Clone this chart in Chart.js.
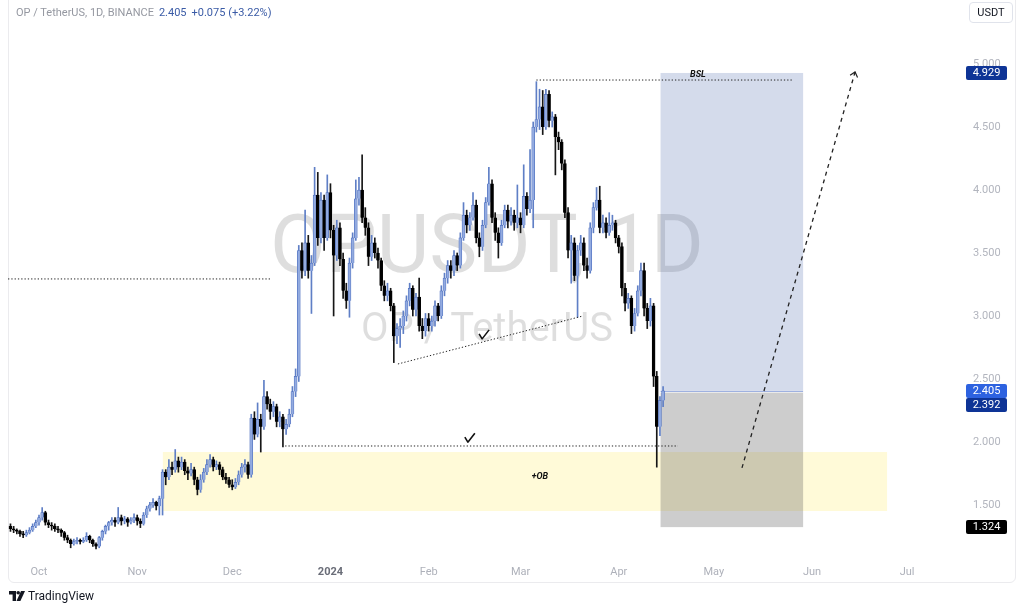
<!DOCTYPE html>
<html lang="en">
<head>
  <meta charset="UTF-8">
  <title>OP / TetherUS, 1D</title>
  <script src="https://cdn.jsdelivr.net/npm/chart.js"></script>
  <style>
    html, body {
      margin: 0;
      padding: 0;
      background: #fff;
    }
    body {
      width: 1024px;
      height: 610px;
      position: relative;
      overflow: hidden;
      font-family: Roboto, "Noto Sans", Arial, sans-serif;
    }
    #frame {
      position: absolute;
      left: 8px;
      top: -6px;
      width: 1008px;
      height: 589px;
      border: 1px solid #ebebee;
      border-radius: 6px;
      box-sizing: border-box;
    }
    #chart {
      position: absolute;
      left: 0;
      top: 0;
    }
    #legend {
      position: absolute;
      left: 16px;
      top: 6px;
      font-size: 11px;
      color: #9598a1;
      white-space: nowrap;
    }
    #legend .val {
      color: #3a5ba6;
      margin-left: 5px;
    }
    #unit {
      position: absolute;
      left: 969px;
      top: 2px;
      width: 44px;
      height: 21px;
      border: 1px solid #e0e3eb;
      border-radius: 4px;
      box-sizing: border-box;
      font-size: 11px;
      color: #131722;
      text-align: center;
      line-height: 19px;
    }
    #brand {
      position: absolute;
      left: 9px;
      top: 589px;
      font-size: 12px;
      color: #131722;
      display: flex;
      align-items: center;
      gap: 3px;
    }
  </style>
</head>
<body>
  <div id="frame"></div>
  <canvas id="chart" width="1024" height="610"></canvas>
  <div id="legend">OP / TetherUS, 1D, BINANCE<span class="val">2.405</span><span class="val">+0.075 (+3.22%)</span></div>
  <div id="unit">USDT</div>
  <div id="brand">
    <svg width="16" height="10" viewBox="0 0 16 10">
      <path d="M0 0h7v10h-3.4v-6.6h-3.6z" fill="#131722"/>
      <circle cx="9.2" cy="1.8" r="1.8" fill="#131722"/>
      <path d="M12 0h4l-4.6 10h-3.9z" fill="#131722"/>
    </svg>
    <span>TradingView</span>
  </div>

  <script>
    // days counted from 1 Oct 2023, one daily candle each
    const firstDay = -9;

    const opens = [
      1.33, 1.31, 1.30, 1.29, 1.27, 1.26, 1.28, 1.30, 1.33, 1.36,
      1.40, 1.44, 1.36, 1.34, 1.33, 1.31, 1.30, 1.28, 1.24, 1.22,
      1.19, 1.21, 1.22, 1.21, 1.22, 1.25, 1.22, 1.19, 1.17, 1.24,
      1.29, 1.33, 1.36, 1.38, 1.36, 1.40, 1.37, 1.39, 1.36, 1.38,
      1.40, 1.37, 1.35, 1.42, 1.47, 1.50, 1.52, 1.49, 1.55, 1.76,
      1.72, 1.80, 1.78, 1.85, 1.80, 1.84, 1.77, 1.75, 1.78, 1.70,
      1.62, 1.70, 1.76, 1.82, 1.86, 1.80, 1.82, 1.78, 1.72, 1.70,
      1.66, 1.64, 1.68, 1.74, 1.80, 1.82, 1.74, 2.19, 2.06, 2.18,
      2.12, 2.36, 2.30, 2.24, 2.28, 2.16, 2.20, 2.10, 2.14, 2.22,
      2.40, 2.52, 3.52, 3.36, 3.58, 3.36, 3.42, 3.96, 3.62, 3.92,
      3.62, 3.98, 3.68, 3.48, 3.70, 3.45, 3.20, 3.12, 3.42, 3.62,
      3.93, 4.00, 3.78, 3.70, 3.47, 3.58, 3.50, 3.44, 3.24, 3.16,
      3.20, 3.08, 2.84, 2.90, 2.92, 3.00, 3.12, 3.22, 3.05, 3.15,
      2.92, 2.88, 2.98, 2.92, 2.96, 3.08, 3.00, 3.20, 3.30, 3.40,
      3.36, 3.48, 3.40, 3.62, 3.80, 3.72, 3.78, 3.88, 3.62, 3.55,
      3.72, 3.90, 4.05, 3.78, 3.66, 3.58, 3.72, 3.84, 3.75, 3.80,
      3.74, 3.78, 3.72, 3.95, 3.85, 3.92, 4.50, 4.56, 4.66, 4.50,
      4.76, 4.55, 4.58, 4.42, 4.38, 4.21, 3.82, 3.52, 3.58, 3.32,
      3.52, 3.58, 3.40, 3.36, 3.70, 3.86, 3.92, 3.70, 3.74, 3.66,
      3.72, 3.74, 3.62, 3.55, 3.22, 3.10, 3.14, 2.92, 3.02, 3.20,
      3.36, 3.06, 2.96, 3.08, 2.52, 2.12, 2.33
    ];
    const highs = [
      1.35, 1.33, 1.31, 1.30, 1.29, 1.30, 1.32, 1.35, 1.38, 1.42,
      1.48, 1.45, 1.38, 1.36, 1.35, 1.33, 1.31, 1.29, 1.26, 1.23,
      1.23, 1.24, 1.23, 1.24, 1.28, 1.26, 1.23, 1.20, 1.25, 1.30,
      1.34, 1.37, 1.40, 1.40, 1.48, 1.42, 1.41, 1.40, 1.40, 1.43,
      1.42, 1.39, 1.44, 1.49, 1.52, 1.55, 1.53, 1.57, 1.78, 1.78,
      1.86, 1.84, 1.94, 1.88, 1.88, 1.86, 1.80, 1.83, 1.80, 1.72,
      1.74, 1.79, 1.86, 1.90, 1.88, 1.85, 1.84, 1.80, 1.75, 1.72,
      1.70, 1.71, 1.77, 1.83, 1.86, 1.84, 2.22, 2.24, 2.31, 2.22,
      2.49, 2.40, 2.34, 2.32, 2.30, 2.24, 2.22, 2.18, 2.26, 2.44,
      2.58, 3.56, 3.58, 3.84, 3.64, 3.48, 4.18, 4.14, 3.98, 3.96,
      4.12, 4.05, 3.72, 3.76, 3.74, 3.50, 3.26, 3.46, 3.66, 4.08,
      4.10, 4.28, 3.86, 3.74, 3.64, 3.62, 3.54, 3.46, 3.28, 3.26,
      3.22, 3.10, 2.94, 2.98, 3.04, 3.16, 3.26, 3.24, 3.18, 3.30,
      2.98, 3.02, 3.02, 3.00, 3.12, 3.10, 3.24, 3.34, 3.44, 3.44,
      3.52, 3.50, 3.66, 3.90, 3.84, 3.82, 3.98, 3.92, 3.66, 3.76,
      3.94, 4.18, 4.08, 3.82, 3.70, 3.76, 3.88, 3.88, 3.86, 3.84,
      4.04, 3.82, 4.20, 3.98, 4.32, 4.54, 4.86, 4.80, 4.79, 4.80,
      4.79, 4.62, 4.60, 4.46, 4.40, 4.24, 3.86, 3.64, 3.62, 3.56,
      3.64, 3.62, 3.46, 3.74, 3.90, 4.02, 4.03, 3.80, 3.78, 3.82,
      3.80, 3.76, 3.64, 3.58, 3.26, 3.18, 3.16, 3.06, 3.24, 3.42,
      3.42, 3.10, 3.14, 3.10, 2.56, 2.36, 2.44
    ];
    const lows = [
      1.29, 1.28, 1.27, 1.25, 1.24, 1.25, 1.27, 1.29, 1.32, 1.34,
      1.38, 1.34, 1.32, 1.30, 1.29, 1.28, 1.25, 1.22, 1.20, 1.16,
      1.18, 1.19, 1.19, 1.20, 1.21, 1.20, 1.17, 1.15, 1.16, 1.22,
      1.27, 1.30, 1.34, 1.33, 1.35, 1.34, 1.35, 1.33, 1.35, 1.36,
      1.34, 1.32, 1.34, 1.40, 1.45, 1.48, 1.46, 1.42, 1.42, 1.66,
      1.70, 1.74, 1.76, 1.76, 1.78, 1.74, 1.70, 1.73, 1.66, 1.58,
      1.60, 1.68, 1.74, 1.80, 1.77, 1.78, 1.74, 1.70, 1.67, 1.64,
      1.62, 1.63, 1.66, 1.72, 1.76, 1.71, 1.72, 2.02, 2.04, 1.92,
      2.10, 2.26, 2.18, 2.20, 2.12, 2.12, 1.96, 2.06, 2.12, 2.20,
      2.36, 2.48, 3.30, 3.32, 3.30, 3.02, 3.40, 3.56, 3.58, 3.52,
      3.60, 3.62, 3.00, 3.44, 3.40, 3.14, 3.06, 2.99, 3.38, 3.60,
      3.88, 3.74, 3.64, 3.40, 3.44, 3.46, 3.38, 3.20, 3.12, 3.12,
      3.04, 2.63, 2.78, 2.75, 2.86, 2.96, 3.08, 3.00, 3.00, 2.88,
      2.82, 2.84, 2.88, 2.88, 2.92, 2.96, 2.98, 3.16, 3.26, 3.30,
      3.32, 3.36, 3.38, 3.60, 3.66, 3.68, 3.76, 3.58, 3.47, 3.52,
      3.70, 3.88, 3.74, 3.60, 3.46, 3.56, 3.70, 3.70, 3.72, 3.68,
      3.70, 3.66, 3.70, 3.80, 3.82, 3.70, 4.46, 4.48, 4.44, 4.48,
      4.50, 4.50, 4.12, 4.32, 4.16, 3.78, 3.46, 3.26, 3.28, 2.99,
      3.48, 3.36, 3.30, 3.34, 3.66, 3.84, 3.66, 3.66, 3.62, 3.64,
      3.68, 3.58, 3.50, 3.16, 3.04, 3.06, 2.86, 2.88, 3.00, 3.16,
      3.00, 2.90, 2.92, 2.44, 1.80, 2.05, 2.28
    ];
    const closes = [
      1.31, 1.30, 1.29, 1.27, 1.26, 1.28, 1.30, 1.33, 1.36, 1.40,
      1.44, 1.36, 1.34, 1.33, 1.31, 1.30, 1.28, 1.24, 1.22, 1.19,
      1.21, 1.22, 1.21, 1.22, 1.25, 1.22, 1.19, 1.17, 1.24, 1.29,
      1.33, 1.36, 1.38, 1.36, 1.40, 1.37, 1.39, 1.36, 1.38, 1.40,
      1.37, 1.35, 1.42, 1.47, 1.50, 1.52, 1.49, 1.55, 1.76, 1.72,
      1.80, 1.78, 1.85, 1.80, 1.84, 1.77, 1.75, 1.78, 1.70, 1.62,
      1.70, 1.76, 1.82, 1.86, 1.80, 1.82, 1.78, 1.72, 1.70, 1.66,
      1.64, 1.68, 1.74, 1.80, 1.82, 1.74, 2.19, 2.06, 2.18, 2.12,
      2.36, 2.30, 2.24, 2.28, 2.16, 2.20, 2.10, 2.14, 2.22, 2.40,
      2.52, 3.52, 3.36, 3.58, 3.36, 3.42, 3.96, 3.62, 3.92, 3.62,
      3.98, 3.68, 3.48, 3.70, 3.45, 3.20, 3.12, 3.42, 3.62, 3.93,
      4.00, 3.78, 3.70, 3.47, 3.58, 3.50, 3.44, 3.24, 3.16, 3.20,
      3.08, 2.84, 2.90, 2.92, 3.00, 3.12, 3.22, 3.05, 3.15, 2.92,
      2.88, 2.98, 2.92, 2.96, 3.08, 3.00, 3.20, 3.30, 3.40, 3.36,
      3.48, 3.40, 3.62, 3.80, 3.72, 3.78, 3.88, 3.62, 3.55, 3.72,
      3.90, 4.05, 3.78, 3.66, 3.58, 3.72, 3.84, 3.75, 3.80, 3.74,
      3.78, 3.72, 3.95, 3.85, 3.92, 4.50, 4.56, 4.66, 4.50, 4.76,
      4.55, 4.58, 4.42, 4.38, 4.21, 3.82, 3.52, 3.58, 3.32, 3.52,
      3.58, 3.40, 3.36, 3.70, 3.86, 3.92, 3.70, 3.74, 3.66, 3.72,
      3.74, 3.62, 3.55, 3.22, 3.10, 3.14, 2.92, 3.02, 3.20, 3.36,
      3.06, 2.96, 3.08, 2.52, 2.12, 2.33, 2.405
    ];

    const monthTicks = [0, 31, 61, 92, 123, 152, 183, 213, 244, 274];
    const monthLabels = ["Oct", "Nov", "Dec", "2024", "Feb", "Mar", "Apr", "May", "Jun", "Jul"];
    const priceTicks = [1.5, 2.0, 2.5, 3.0, 3.5, 4.0, 4.5, 5.0];
    const priceMarks = [4.929, 2.405, 2.392, 1.324];

    // drawings, in days / price
    const obZone = { from: 39.1, to: 267.7, low: 1.452, high: 1.92 };
    const longTool = { from: 196.2, to: 241.2, target: 4.929, entry: 2.405, stopTop: 2.392, stop: 1.324 };
    const oldHigh = { to: 73.5, price: 3.294 };
    const bsl = { from: 157, to: 238, price: 4.873 };
    const equalLows = { from: 77.7, to: 201.7, price: 1.968 };
    const trendLine = [[113.3, 2.619], [171.7, 3.0]];
    const projection = [[221.9, 1.794], [257.6, 4.937]];
    const checks = [[136, 2.03], [140.5, 2.85]];

    const isUp = closes.map((c, i) => c >= opens[i]);
    const wicks = highs.map((h, i) => ({ x: firstDay + i, y: [lows[i], h] }));
    const bodies = closes.map((c, i) => ({ x: firstDay + i, y: [Math.min(opens[i], c), Math.max(opens[i], c)] }));

    const drawings = {
      id: "drawings",
      beforeDatasetsDraw(chart) {
        const { ctx, chartArea: a, scales: { x, y } } = chart;
        ctx.save();
        ctx.beginPath();
        ctx.rect(a.left, a.top, a.right - a.left, a.bottom - a.top);
        ctx.clip();

        // watermark
        const cx = (a.left + a.right) / 2 + 2;
        const cy = (a.top + a.bottom) / 2;
        ctx.fillStyle = "rgba(0, 0, 0, 0.13)";
        ctx.textAlign = "center";
        ctx.textBaseline = "middle";
        ctx.font = "81px Roboto";
        ctx.fillText("OPUSDT, 1D", cx, cy - 42);
        ctx.font = "40px Roboto";
        ctx.fillText("OP / TetherUS", cx, cy + 37);

        const box = (d0, d1, p0, p1, color) => {
          const x0 = x.getPixelForValue(d0), x1 = x.getPixelForValue(d1);
          const y0 = y.getPixelForValue(p1), y1 = y.getPixelForValue(p0);
          ctx.fillStyle = color;
          ctx.fillRect(x0, y0, x1 - x0, y1 - y0);
        };
        box(obZone.from, obZone.to, obZone.low, obZone.high, "rgba(255, 238, 110, 0.27)");
        box(longTool.from, longTool.to, longTool.entry, longTool.target, "rgba(70, 100, 170, 0.23)");
        box(longTool.from, longTool.to, longTool.stop, longTool.stopTop, "rgba(90, 90, 90, 0.30)");

        const ey = Math.round(y.getPixelForValue(longTool.entry)) + 0.5;
        ctx.strokeStyle = "#9fb1e0";
        ctx.lineWidth = 1;
        ctx.beginPath();
        ctx.moveTo(x.getPixelForValue(longTool.from), ey);
        ctx.lineTo(x.getPixelForValue(longTool.to), ey);
        ctx.stroke();
        ctx.restore();
      },
      afterDatasetsDraw(chart) {
        const { ctx, chartArea: a, scales: { x, y } } = chart;
        ctx.save();
        ctx.beginPath();
        ctx.rect(a.left, a.top, a.right - a.left, a.bottom - a.top);
        ctx.clip();

        const line = (d0, p0, d1, p1, dash, width) => {
          ctx.setLineDash(dash);
          ctx.lineWidth = width;
          ctx.strokeStyle = "#222";
          ctx.beginPath();
          ctx.moveTo(x.getPixelForValue(d0), y.getPixelForValue(p0));
          ctx.lineTo(x.getPixelForValue(d1), y.getPixelForValue(p1));
          ctx.stroke();
        };
        const dots = [1.3, 2];
        line(x.min, oldHigh.price, oldHigh.to, oldHigh.price, dots, 1);
        line(bsl.from, bsl.price, bsl.to, bsl.price, dots, 1);
        line(equalLows.from, equalLows.price, equalLows.to, equalLows.price, dots, 1);
        line(trendLine[0][0], trendLine[0][1], trendLine[1][0], trendLine[1][1], dots, 1);
        line(projection[0][0], projection[0][1], projection[1][0], projection[1][1], [4, 4], 1.3);

        // arrow head on the projection
        const tx = x.getPixelForValue(projection[1][0]), ty = y.getPixelForValue(projection[1][1]);
        const ang = Math.atan2(ty - y.getPixelForValue(projection[0][1]), tx - x.getPixelForValue(projection[0][0]));
        ctx.setLineDash([]);
        ctx.lineWidth = 1.2;
        ctx.beginPath();
        ctx.moveTo(tx + Math.cos(ang + Math.PI - 0.7) * 6, ty + Math.sin(ang + Math.PI - 0.7) * 6);
        ctx.lineTo(tx, ty);
        ctx.lineTo(tx + Math.cos(ang + Math.PI + 0.7) * 6, ty + Math.sin(ang + Math.PI + 0.7) * 6);
        ctx.stroke();

        // check marks
        ctx.lineWidth = 1.6;
        ctx.strokeStyle = "#111";
        ctx.lineJoin = "round";
        checks.forEach(([d, p]) => {
          const px = x.getPixelForValue(d), py = y.getPixelForValue(p);
          ctx.beginPath();
          ctx.moveTo(px - 5, py - 1);
          ctx.lineTo(px - 2, py + 4);
          ctx.lineTo(px + 5, py - 5);
          ctx.stroke();
        });

        ctx.fillStyle = "#111";
        ctx.textAlign = "center";
        ctx.textBaseline = "middle";
        ctx.font = "italic bold 9px Roboto";
        ctx.fillText("BSL", x.getPixelForValue(208), y.getPixelForValue(4.913));
        ctx.fillText("+OB", x.getPixelForValue(158.1), y.getPixelForValue(1.722));
        ctx.restore();
      },
      afterDraw(chart) {
        const { ctx, scales: { y } } = chart;
        const colors = ["#0e3496", "#2d62e0", "#0e3496", "#000000"];
        const h = 14;
        let prevBottom = -Infinity;
        ctx.save();
        ctx.font = "11px Roboto";
        ctx.textAlign = "center";
        ctx.textBaseline = "middle";
        priceMarks.forEach((p, i) => {
          let top = y.getPixelForValue(p) - h / 2;
          if (top < prevBottom) top = prevBottom;
          prevBottom = top + h;
          ctx.fillStyle = colors[i];
          ctx.beginPath();
          ctx.roundRect(966, top, 41, h, 2);
          ctx.fill();
          ctx.fillStyle = "#fff";
          ctx.fillText(p.toFixed(3), 986.5, top + h / 2 + 0.5);
        });
        ctx.restore();
      }
    };

    new Chart(document.getElementById("chart"), {
      type: "bar",
      data: {
        datasets: [
          {
            data: wicks,
            grouped: false,
            order: 1,
            barThickness: 1,
            backgroundColor: c => isUp[c.dataIndex] ? "#5f7fc6" : "#161616"
          },
          {
            data: bodies,
            grouped: false,
            order: 0,
            barThickness: 3,
            minBarLength: 1,
            borderWidth: 0.7,
            borderColor: c => isUp[c.dataIndex] ? "#5071c0" : "#000000",
            backgroundColor: c => isUp[c.dataIndex] ? "#93abe0" : "#000000"
          }
        ]
      },
      options: {
        responsive: false,
        animation: false,
        devicePixelRatio: 1,
        layout: { padding: { left: 8, top: 28, right: 0, bottom: 27 } },
        plugins: {
          legend: { display: false },
          tooltip: { enabled: false }
        },
        scales: {
          x: {
            type: "linear",
            min: -9.785,
            max: 291.35,
            offset: false,
            grid: { display: false, drawTicks: false },
            border: { display: false },
            afterBuildTicks: s => { s.ticks = monthTicks.map(v => ({ value: v })); },
            afterFit: s => { s.height = 23; },
            ticks: {
              autoSkip: false,
              maxRotation: 0,
              padding: 6,
              callback: (v, i) => monthLabels[i],
              color: c => c.index === 3 ? "#6a6d78" : "#aeb1ba",
              font: c => ({ family: "Roboto", size: 11, weight: c.index === 3 ? "bold" : "normal" })
            }
          },
          y: {
            position: "right",
            min: 1.063,
            max: 5.286,
            grid: { display: false, drawTicks: false },
            border: { display: false },
            afterBuildTicks: s => { s.ticks = priceTicks.map(v => ({ value: v })); },
            afterFit: s => { s.width = 62; },
            ticks: {
              padding: 11,
              color: "#b2b5be",
              font: { family: "Roboto", size: 11 },
              callback: v => v.toFixed(3)
            }
          }
        }
      },
      plugins: [drawings]
    });
  </script>
</body>
</html>
